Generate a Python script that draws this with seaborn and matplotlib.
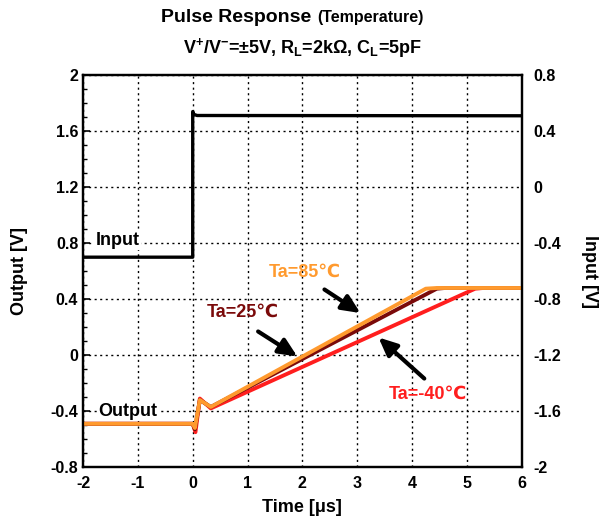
import numpy as np
import pandas as pd
import seaborn as sns
import matplotlib.pyplot as plt
from matplotlib.ticker import MultipleLocator, FuncFormatter

# input step (right axis, V)
in_t = [-2.0, 0.0, 0.0, 0.02, 0.08, 6.0]
in_v = [-0.50, -0.50, 0.54, 0.52, 0.512, 0.51]

# output curves (left axis, V), breakpoints
out_t = {
    "Ta=-40℃": [-2.0, 0.0, 0.05, 0.13, 0.33, 5.15, 5.3, 6.0],
    "Ta=25℃": [-2.0, 0.0, 0.04, 0.13, 0.33, 4.45, 4.6, 6.0],
    "Ta=85℃": [-2.0, 0.0, 0.04, 0.13, 0.33, 4.25, 4.45, 6.0],
}
out_v = {
    "Ta=-40℃": [-0.49, -0.49, -0.55, -0.31, -0.38, 0.475, 0.48, 0.48],
    "Ta=25℃": [-0.49, -0.49, -0.53, -0.32, -0.37, 0.475, 0.48, 0.48],
    "Ta=85℃": [-0.49, -0.49, -0.52, -0.32, -0.37, 0.475, 0.48, 0.48],
}
colors = {"Ta=-40℃": "#ff1e1e", "Ta=25℃": "#7a0a0a", "Ta=85℃": "#ff9a2e"}

sns.set_style("ticks")
plt.rcParams["font.family"] = ["Liberation Sans", "DejaVu Sans"]
plt.rcParams["font.weight"] = "bold"
plt.rcParams["text.color"] = "black"
plt.rcParams["axes.labelcolor"] = "black"
plt.rcParams["xtick.color"] = "black"
plt.rcParams["ytick.color"] = "black"
plt.rcParams["axes.unicode_minus"] = False
plt.rcParams["mathtext.fontset"] = "custom"
plt.rcParams["mathtext.rm"] = "Liberation Sans:bold"
plt.rcParams["mathtext.it"] = "Liberation Sans:bold"
plt.rcParams["mathtext.bf"] = "Liberation Sans:bold"
plt.rcParams["mathtext.default"] = "rm"

rows = []
for k in out_t:
    for t, v in zip(out_t[k], out_v[k]):
        rows.append({"t": t, "v": v, "temp": k})
df = pd.DataFrame(rows)
df_in = pd.DataFrame({"t": in_t, "v": in_v})

fig = plt.figure(figsize=(6.06, 5.22), dpi=100)
ax = fig.add_axes([0.137, 0.105, 0.724, 0.751])
ax2 = ax.twinx()

sns.lineplot(data=df, x="t", y="v", hue="temp", palette=colors, sort=False,
             estimator=None, units="temp", lw=2.8, legend=False, ax=ax, zorder=3)
sns.lineplot(data=df_in, x="t", y="v", color="black", sort=False,
             estimator=None, lw=2.4, ax=ax2)

ax.set_xlim(-2, 6)
ax.set_ylim(-0.8, 2.0)
ax2.set_ylim(-2.0, 0.8)
ax.xaxis.set_major_locator(MultipleLocator(1))
ax.yaxis.set_major_locator(MultipleLocator(0.4))
ax.yaxis.set_minor_locator(MultipleLocator(0.1))
ax2.yaxis.set_major_locator(MultipleLocator(0.4))
fmt = FuncFormatter(lambda v, p: f"{v:g}" if abs(v) > 1e-9 else "0")
ax.yaxis.set_major_formatter(fmt)
ax2.yaxis.set_major_formatter(fmt)

ax.grid(True, which="major", color="black", linestyle=(0, (1.5, 2.5)), lw=1.0)
ax.tick_params(axis="both", which="both", direction="in", labelsize=11.5)
ax.tick_params(axis="y", which="major", length=5, width=1.2)
ax.tick_params(axis="y", which="minor", length=3, width=1.0)
ax.tick_params(axis="x", length=0, pad=6)
ax2.tick_params(axis="y", length=0, labelsize=11.5, pad=8)
for a in (ax, ax2):
    for s in a.spines.values():
        s.set_linewidth(1.6)
        s.set_color("black")

ax.set_xlabel("Time [μs]", fontsize=13, fontweight="bold", labelpad=6)
ax.set_ylabel("Output [V]", fontsize=13, fontweight="bold", labelpad=16)
ax2.set_ylabel("Input [V]", fontsize=13, fontweight="bold", rotation=-90, labelpad=27)

fig.text(0.513, 0.958, "Pulse Response", ha="right", va="baseline", fontsize=14, fontweight="bold")
fig.text(0.523, 0.958, "(Temperature)", ha="left", va="baseline", fontsize=11.5, fontweight="bold")
fig.text(0.5, 0.908, "V$^{+}$/V$^{-}$=±5V, R$_{L}$=2kΩ, C$_{L}$=5pF", ha="center",
         va="center", fontsize=13, fontweight="bold")

box = dict(facecolor="white", edgecolor="none", pad=1)
ax.text(-1.37, 0.82, "Input", ha="center", va="center", fontsize=13, fontweight="bold", bbox=box)
ax.text(-1.18, -0.40, "Output", ha="center", va="center", fontsize=13, fontweight="bold", bbox=box)

arrow = dict(arrowstyle="-|>,head_length=1.1,head_width=0.5", color="black", lw=3)
ax.text(2.04, 0.59, "Ta=85℃", color=colors["Ta=85℃"], ha="center", va="center", fontsize=13, fontweight="bold")
ax.annotate("", xy=(3.10, 0.29), xytext=(2.36, 0.48), arrowprops=arrow, zorder=4)
ax.text(0.91, 0.31, "Ta=25℃", color=colors["Ta=25℃"], ha="center", va="center", fontsize=13, fontweight="bold")
ax.annotate("", xy=(1.95, -0.02), xytext=(1.15, 0.18), arrowprops=arrow, zorder=4)
ax.text(4.28, -0.28, "Ta=-40℃", color=colors["Ta=-40℃"], ha="center", va="center", fontsize=13, fontweight="bold")
ax.annotate("", xy=(3.35, 0.14), xytext=(4.26, -0.18), arrowprops=arrow, zorder=4)

fig.savefig("out.png", dpi=100)
